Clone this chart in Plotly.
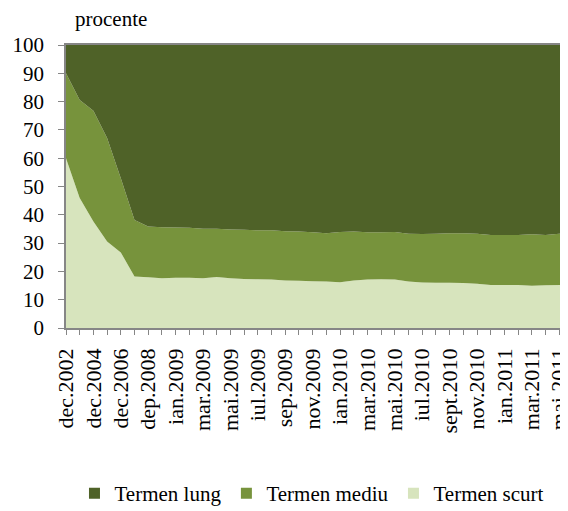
import plotly.graph_objects as go

categories = ["dec.2002", "dec.2003", "dec.2004", "dec.2005", "dec.2006", "dec.2007",
              "dep.2008", "dec.2008", "ian.2009", "feb.2009", "mar.2009", "apr.2009",
              "mai.2009", "iun.2009", "iul.2009", "aug.2009", "sep.2009", "oct.2009",
              "nov.2009", "dec.2009", "ian.2010", "feb.2010", "mar.2010", "apr.2010",
              "mai.2010", "iun.2010", "iul.2010", "aug.2010", "sept.2010", "oct.2010",
              "nov.2010", "dec.2010", "ian.2011", "feb.2011", "mar.2011", "apr.2011",
              "mai.2011", "iun.2011"]

termen_scurt = [60.0, 45.9, 37.6, 30.6, 26.7, 18.2, 17.9, 17.6, 17.8, 17.8, 17.6, 18.0,
                17.6, 17.3, 17.2, 17.1, 16.8, 16.7, 16.5, 16.4, 16.2, 16.8, 17.1, 17.2,
                17.1, 16.4, 16.1, 16.0, 16.0, 15.9, 15.6, 15.2, 15.2, 15.2, 14.9, 15.1,
                15.2, 15.3]
scurt_plus_mediu = [90.0, 80.6, 76.8, 67.1, 52.9, 38.2, 35.9, 35.6, 35.5, 35.4, 35.1, 35.1,
                    34.8, 34.7, 34.5, 34.5, 34.2, 34.1, 33.8, 33.5, 33.9, 34.1, 33.8, 33.8,
                    33.9, 33.3, 33.2, 33.3, 33.5, 33.5, 33.3, 32.9, 32.9, 32.9, 33.1, 32.9,
                    33.3, 33.3]
termen_mediu = [round(t - s, 1) for t, s in zip(scurt_plus_mediu, termen_scurt)]
termen_lung = [round(100 - t, 1) for t in scurt_plus_mediu]

shown_labels = ["dec.2002", "dec.2004", "dec.2006", "dep.2008", "ian.2009", "mar.2009",
                "mai.2009", "iul.2009", "sep.2009", "nov.2009", "ian.2010", "mar.2010",
                "mai.2010", "iul.2010", "sept.2010", "nov.2010", "ian.2011", "mar.2011",
                "mai.2011"]
y_ticks = [0, 10, 20, 30, 40, 50, 60, 70, 80, 90, 100]

FONT = "Liberation Serif, Times New Roman, serif"
series = [("Termen scurt", termen_scurt, "#D7E4BD"),
          ("Termen mediu", termen_mediu, "#77933C"),
          ("Termen lung", termen_lung, "#4F6228")]

fig = go.Figure()
for name, vals, col in series:
    fig.add_trace(go.Scatter(x=categories, y=vals, name=name, mode="none",
                             stackgroup="one", fill="tonexty", fillcolor=col,
                             showlegend=False))
# legend entries with square swatches
for name, vals, col in series:
    fig.add_trace(go.Scatter(x=[None], y=[None], name=name, mode="markers",
                             marker=dict(symbol="square", size=11, color=col),
                             showlegend=True))

fig.update_layout(
    width=560, height=503,
    margin=dict(l=58, r=0, t=37, b=183, autoexpand=False),
    paper_bgcolor="white", plot_bgcolor="white",
    font=dict(family=FONT, size=21, color="black"),
    showlegend=True,
    legend=dict(orientation="h", traceorder="reversed", x=0.49, xanchor="center",
                y=-0.585, yanchor="middle", font=dict(size=21), itemwidth=30,
                tracegroupgap=0),
    xaxis=dict(type="category", categoryorder="array", categoryarray=categories,
               range=[0, 36.64], tickvals=categories,
               ticktext=[c if c in shown_labels else "" for c in categories],
               tickangle=-90, ticks="outside", ticklen=5, tickcolor="#868686",
               showline=True, linecolor="#868686", linewidth=1.5, mirror=True,
               showgrid=False, zeroline=False, tickfont=dict(size=22),
               ticklabelstandoff=5, automargin=False),
    yaxis=dict(range=[0, 100], tickvals=y_ticks, ticks="outside", ticklen=6,
               tickcolor="#868686", showline=True, linecolor="#868686", linewidth=1.5,
               showgrid=False, zeroline=False, tickfont=dict(size=21),
               ticklabelstandoff=10, automargin=False),
    annotations=[dict(text="procente", xref="paper", yref="paper", x=0.014, y=1.0,
                      yshift=26, xanchor="left", yanchor="middle", showarrow=False,
                      font=dict(size=21))],
)

fig.write_html("out.html")
